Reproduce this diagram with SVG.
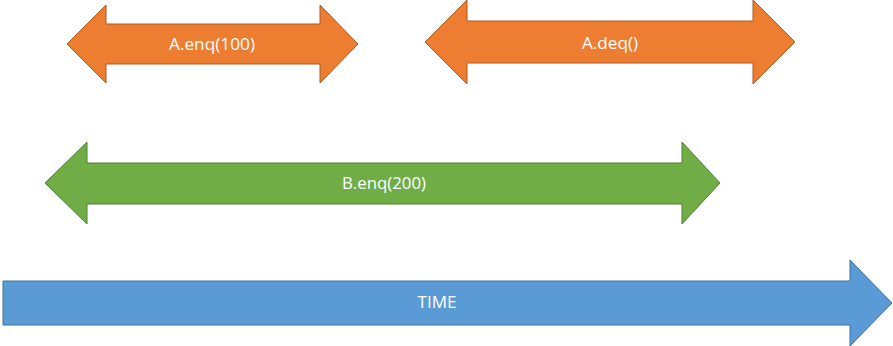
<svg xmlns="http://www.w3.org/2000/svg" width="893" height="346" viewBox="0 0 893 346">
<style>
.o{fill:#ED7D31;stroke:#AE5A21;stroke-width:1}
.g{fill:#70AD47;stroke:#507E32;stroke-width:1}
.b{fill:#5B9BD5;stroke:#41719C;stroke-width:1}
text{font-family:"Open Sans","Liberation Sans",sans-serif;font-size:16px;fill:#FFFFFF;text-anchor:middle}
</style>
<rect width="893" height="346" fill="#FFFFFF"/>
<g id="a-enq">
<polygon class="o" points="67,44 106,5 106,24 320,24 320,5 358,44 320,83 320,64 106,64 106,83"/>
<text x="212" y="50" textLength="86" lengthAdjust="spacingAndGlyphs">A.enq(100)</text>
</g>
<g id="a-deq">
<polygon class="o" points="425,42 467,0 467,21 753,21 753,0 795,42 753,84 753,63 467,63 467,84"/>
<text x="610" y="49" textLength="56" lengthAdjust="spacingAndGlyphs">A.deq()</text>
</g>
<g id="b-enq">
<polygon class="g" points="45,183 87,142 87,163 682,163 682,142 720,183 682,224 682,204 87,204 87,224"/>
<text x="384" y="189" textLength="84" lengthAdjust="spacingAndGlyphs">B.enq(200)</text>
</g>
<g id="time">
<polygon class="b" points="3,281 850,281 850,260 892,303 850,346 850,325 3,325"/>
<text x="437" y="308" textLength="39" lengthAdjust="spacingAndGlyphs">TIME</text>
</g>
<g id="connectors"></g>
</svg>
